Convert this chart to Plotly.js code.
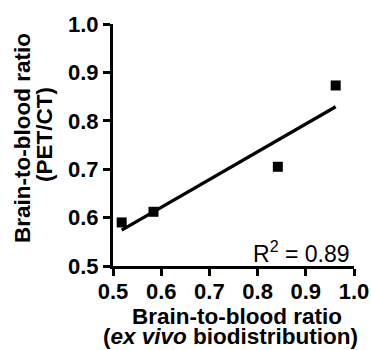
<!DOCTYPE html>
<html>
<head>
<meta charset="utf-8">
<script src="https://cdn.plot.ly/plotly-3.0.1.min.js"></script>
<style>html,body{margin:0;padding:0;background:#fff;}#chart{width:371px;height:350px;}</style>
</head>
<body>
<div id="chart"></div>
<script>
// Data
const exVivo = [0.518, 0.584, 0.842, 0.962];
const petCT = [0.590, 0.612, 0.705, 0.873];
const fitX = [0.518, 0.962];
const fitY = [0.574, 0.829];
const tickVals = [0.5, 0.6, 0.7, 0.8, 0.9, 1.0];
const tickText = ["0.5", "0.6", "0.7", "0.8", "0.9", "1.0"];
const r2Label = "R<sup>2</sup> = 0.89";
const xTitleLines = ["<b>Brain-to-blood ratio</b>", "<b>(<i>ex vivo</i> biodistribution)</b>"];
const yTitleLines = ["<b>Brain-to-blood ratio</b>", "<b>(PET/CT)</b>"];

const FONT = "Arial, 'Liberation Sans', sans-serif";
const TITLE_SIZE = 22.5;

const traces = [
  {
    x: fitX, y: fitY, mode: "lines", type: "scatter",
    line: {color: "#000", width: 3.2}, hoverinfo: "skip", showlegend: false
  },
  {
    x: exVivo, y: petCT, mode: "markers", type: "scatter",
    marker: {symbol: "square", size: 10, color: "#000"}, showlegend: false
  }
];

const axisCommon = {
  range: [0.5, 1.0],
  tickvals: tickVals,
  ticktext: tickText,
  showgrid: false,
  zeroline: false,
  showline: true,
  linecolor: "#000",
  linewidth: 3,
  ticks: "outside",
  ticklen: 7,
  tickwidth: 3,
  tickcolor: "#000",
  tickfont: {family: FONT, size: 22, color: "#000", weight: "bold"},
  fixedrange: true
};

const titleFont = {family: FONT, size: TITLE_SIZE, color: "#000"};

const layout = {
  width: 371, height: 350,
  margin: {l: 113, r: 17, t: 24, b: 84},
  paper_bgcolor: "#fff", plot_bgcolor: "#fff",
  font: {family: FONT, color: "#000"},
  showlegend: false,
  xaxis: Object.assign({}, axisCommon, {ticklabelstandoff: -3}),
  yaxis: Object.assign({}, axisCommon),
  annotations: [
    {
      text: r2Label, xref: "paper", yref: "paper", x: 1.0, y: 0.0,
      xanchor: "right", yanchor: "middle", xshift: -2, yshift: 14, showarrow: false,
      font: {family: FONT, size: 23, color: "#000"}
    },
    {
      text: xTitleLines[0], xref: "paper", yref: "paper", x: 0.5, y: 0.0,
      xanchor: "center", yanchor: "middle", xshift: 3, yshift: -50, showarrow: false,
      font: titleFont
    },
    {
      text: xTitleLines[1], xref: "paper", yref: "paper", x: 0.5, y: 0.0,
      xanchor: "center", yanchor: "middle", xshift: -3, yshift: -70, showarrow: false,
      font: titleFont
    },
    {
      text: yTitleLines[0], xref: "paper", yref: "paper", x: 0.0, y: 0.5,
      xanchor: "center", yanchor: "middle", xshift: -91, yshift: 7, textangle: -90, showarrow: false,
      font: titleFont
    },
    {
      text: yTitleLines[1], xref: "paper", yref: "paper", x: 0.0, y: 0.5,
      xanchor: "center", yanchor: "middle", xshift: -69, yshift: 10, textangle: -90, showarrow: false,
      font: titleFont
    }
  ]
};

Plotly.newPlot("chart", traces, layout, {displayModeBar: false, staticPlot: true});
</script>
</body>
</html>
